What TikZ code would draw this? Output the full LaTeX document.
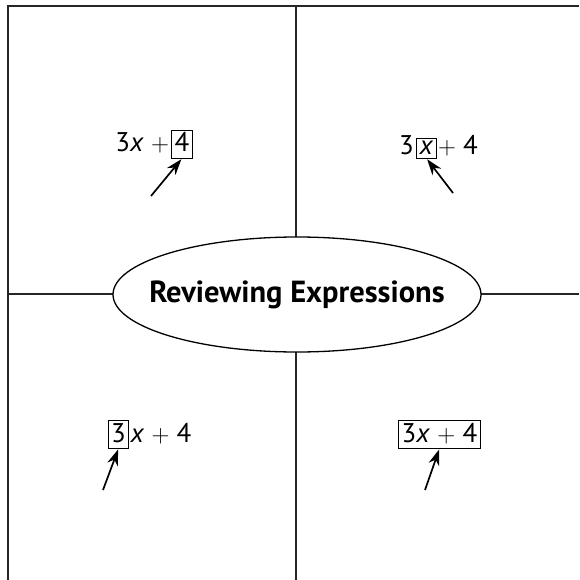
\documentclass[tikz,border=0pt]{standalone}
\usepackage{fontspec}
\setmainfont{PT Sans}
\usetikzlibrary{arrows.meta,positioning,shapes.geometric}

\newcommand{\pl}{\ensuremath{+}}

\tikzset{
  frameline/.style={line width=1.5pt, black!85},
  hub/.style={ellipse, draw, line width=1.3pt, fill=white,
    minimum width=368pt, minimum height=115pt, inner sep=0pt},
  title/.style={inner sep=0pt, font=\fontsize{30.5}{34}\selectfont\bfseries},
  expr/.style={inner sep=0pt, font=\fontsize{27}{31}\selectfont},
  boxed/.style={draw, line width=0.9pt, inner xsep=3pt, inner ysep=2pt,
    text height=20pt, text depth=4pt, font=\fontsize{27}{31}\selectfont},
  lowbox/.style={boxed, text height=15pt, text depth=1pt},
  pointer/.style={-{Stealth[length=16pt,width=11pt]}, line width=1.7pt, shorten >=1pt}
}

\begin{document}
\begin{tikzpicture}[x=1pt,y=-1pt]
  \useasboundingbox (0,0) rectangle (579,580);

  % frame and quadrant lines
  \draw[frameline] (8,580) -- (8,6) -- (579,6);
  \draw[frameline] (296,6) -- (296,580);
  \draw[frameline] (8,294) -- (579,294);

  \node[hub] (hub) at (297,294.5) {};
  \node[title] (hubtext) at (hub) {Reviewing Expressions};

  % top left
  \node[boxed, anchor=base] (boxA) at (182,152) {4};
  \node[expr, anchor=base east] (exprA) at ([xshift=-2pt]boxA.base west) {3\textit{x} \pl};
  \coordinate (tailA) at (151,196);
  \draw[pointer] (tailA) -- (boxA.south);

  % top right
  \node[lowbox, anchor=base] (boxB) at (426.5,155) {\textit{x}};
  \node[expr, anchor=base east] (preB) at ([xshift=-2pt]boxB.base west) {3};
  \node[expr, anchor=base west] (postB) at ([xshift=1pt]boxB.base east) {\pl\ 4};
  \coordinate (tailB) at (453,193);
  \draw[pointer] (tailB) -- (boxB.south);

  % bottom left
  \node[boxed, anchor=base] (boxC) at (118.5,442) {3};
  \node[expr, anchor=base west] (exprC) at ([xshift=1pt]boxC.base east) {\textit{x} \pl\ 4};
  \coordinate (tailC) at (103,490);
  \draw[pointer] (tailC) -- (boxC.south);

  % bottom right
  \node[boxed, anchor=base] (boxD) at (439.5,442) {3\textit{x} \pl\ 4};
  \coordinate (tailD) at (425,490);
  \draw[pointer] (tailD) -- (boxD.south);
\end{tikzpicture}
\end{document}
